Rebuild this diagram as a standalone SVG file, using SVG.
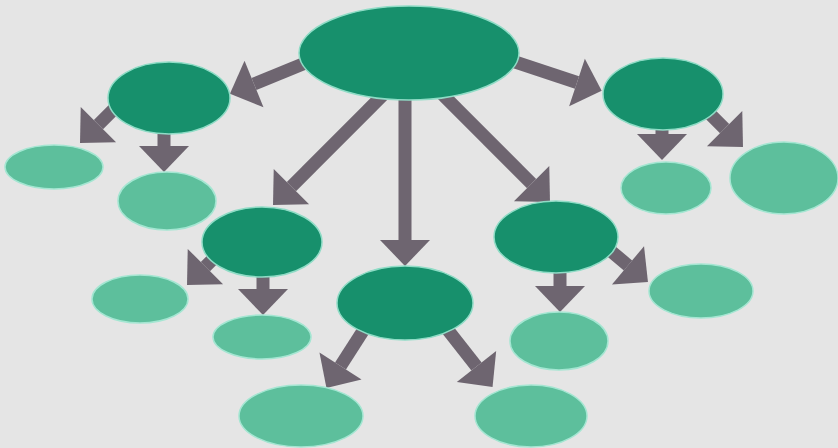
<svg xmlns="http://www.w3.org/2000/svg" width="838" height="448" viewBox="0 0 838 448">
  <style>
    .dark { fill: #17906c; stroke: #8fdcc6; stroke-width: 1.5; }
    .light { fill: #5dbf9c; stroke: #a4e6d2; stroke-width: 1.5; }
    .arrow { stroke: #6e6570; stroke-width: 13; fill: none; marker-end: url(#head); }
  </style>
  <defs>
    <!-- wide arrowhead, ~90 degree tip; lines end at its base -->
    <marker id="head" markerUnits="userSpaceOnUse" viewBox="0 -26 28 52" refX="0" refY="0" markerWidth="28" markerHeight="52" orient="auto" overflow="visible">
      <path d="M0,-25 L26,0 L0,25 Z" fill="#6e6570"/>
    </marker>
  </defs>

  <rect width="838" height="448" fill="#e5e5e5"/>

  <!-- connectors: each line stops at the base of its arrowhead -->
  <g id="connectors">
    <line class="arrow" x1="320" y1="57" x2="254" y2="84"/>
    <line class="arrow" x1="500" y1="57" x2="577" y2="82.5"/>
    <line class="arrow" x1="383.3" y1="94.7" x2="291.4" y2="186.6"/>
    <line class="arrow" x1="405" y1="90" x2="405" y2="240"/>
    <line class="arrow" x1="439.7" y1="91.7" x2="531.6" y2="183.6"/>
    <line class="arrow" x1="118.4" y1="104.6" x2="98.4" y2="124.6"/>
    <line class="arrow" x1="164" y1="120" x2="164" y2="146"/>
    <line class="arrow" x1="662" y1="120" x2="662" y2="134"/>
    <line class="arrow" x1="699.9" y1="103.9" x2="724.6" y2="128.6"/>
    <line class="arrow" x1="235.4" y1="236.6" x2="205.4" y2="266.6"/>
    <line class="arrow" x1="263" y1="265" x2="263" y2="289"/>
    <line class="arrow" x1="370" y1="320" x2="340.5" y2="366"/>
    <line class="arrow" x1="440" y1="320" x2="476.5" y2="366.5"/>
    <line class="arrow" x1="560" y1="260" x2="560" y2="286"/>
    <line class="arrow" x1="600" y1="242" x2="628" y2="265.4"/>
  </g>

  <!-- main node -->
  <g id="root"><ellipse class="dark" cx="409" cy="53" rx="110" ry="47"/></g>

  <!-- second level -->
  <g id="n-left"><ellipse class="dark" cx="169" cy="98" rx="61" ry="36"/></g>
  <g id="n-right"><ellipse class="dark" cx="663" cy="94" rx="60" ry="36"/></g>
  <g id="n-midleft"><ellipse class="dark" cx="262" cy="242" rx="60" ry="35"/></g>
  <g id="n-center"><ellipse class="dark" cx="405" cy="303" rx="68" ry="37"/></g>
  <g id="n-midright"><ellipse class="dark" cx="556" cy="237" rx="62" ry="36"/></g>

  <!-- leaves -->
  <g id="l-1"><ellipse class="light" cx="54" cy="167" rx="49" ry="22"/></g>
  <g id="l-2"><ellipse class="light" cx="167" cy="201" rx="49" ry="29"/></g>
  <g id="l-3"><ellipse class="light" cx="666" cy="188" rx="45" ry="26"/></g>
  <g id="l-4"><ellipse class="light" cx="784" cy="178" rx="54" ry="36"/></g>
  <g id="l-5"><ellipse class="light" cx="140" cy="299" rx="48" ry="24"/></g>
  <g id="l-6"><ellipse class="light" cx="262" cy="337" rx="49" ry="22"/></g>
  <g id="l-7"><ellipse class="light" cx="301" cy="416" rx="62" ry="31"/></g>
  <g id="l-8"><ellipse class="light" cx="531" cy="416" rx="56" ry="31"/></g>
  <g id="l-9"><ellipse class="light" cx="559" cy="341" rx="49" ry="29"/></g>
  <g id="l-10"><ellipse class="light" cx="701" cy="291" rx="52" ry="27"/></g>
</svg>
